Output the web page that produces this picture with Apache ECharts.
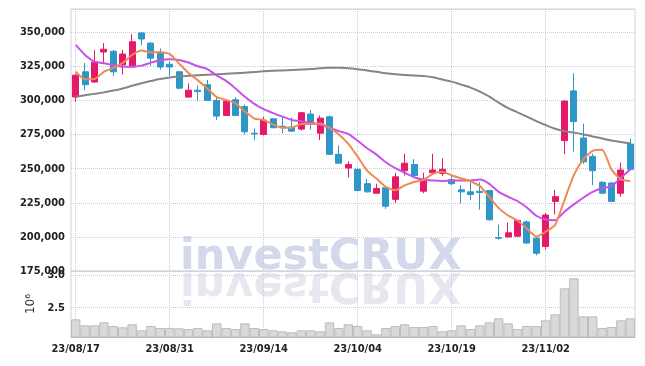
<!DOCTYPE html>
<html><head><meta charset="utf-8">
<script src="https://cdn.jsdelivr.net/npm/echarts@6/dist/echarts.min.js"></script>
<style>html,body{margin:0;padding:0;background:#fff}#c{width:645px;height:366px}</style>
</head><body><div id="c"></div>
<script>
const dates = ['23/08/17','23/08/18','23/08/21','23/08/22','23/08/23','23/08/24','23/08/25','23/08/28','23/08/29','23/08/30','23/08/31','23/09/01','23/09/04','23/09/05','23/09/06','23/09/07','23/09/08','23/09/11','23/09/12','23/09/13','23/09/14','23/09/15','23/09/18','23/09/19','23/09/20','23/09/21','23/09/22','23/09/25','23/09/26','23/09/27','23/10/04','23/10/05','23/10/06','23/10/10','23/10/11','23/10/12','23/10/13','23/10/16','23/10/17','23/10/18','23/10/19','23/10/20','23/10/23','23/10/24','23/10/25','23/10/26','23/10/27','23/10/30','23/10/31','23/11/01','23/11/02','23/11/03','23/11/06','23/11/07','23/11/08','23/11/09','23/11/10','23/11/13','23/11/14','23/11/15'];

const openP = [302500,321000,313500,335500,336000,326000,324500,349500,342000,334500,326500,321000,302500,307500,311500,300000,289000,300500,295500,276000,275000,286500,281000,280500,279000,290000,276000,288000,260500,250500,249500,239000,232000,236000,227500,248500,253000,233500,247000,246500,242000,234500,233000,233500,234000,199500,200000,200500,211000,199000,193000,226000,270500,307000,272500,259000,240000,239500,232000,268000];
const closeP = [318500,311500,328000,337500,321000,334000,343000,345000,331000,324500,324500,309000,307500,306500,300000,288500,299500,289000,277000,275500,285500,280000,280000,277500,291000,282500,287000,260500,254000,253000,234000,233000,235500,222500,244000,254000,245000,242500,249000,249500,239000,233000,231000,232500,212500,199000,203000,212000,195500,188000,216000,229500,299500,284500,255000,248500,232000,226000,249000,249500];
const lowP = [299000,307500,313000,327000,318000,319000,324000,340500,325500,322500,318000,308000,302000,299500,300000,285500,288500,288500,275000,271000,274500,280000,276000,277000,278000,278500,271000,260000,254000,243500,233500,232500,232000,220500,225000,245000,244000,232000,246500,244500,238000,224500,227000,220000,212000,198000,199500,200000,195000,186500,191000,216500,260500,262500,253500,238000,231500,225500,229500,249000];
const highP = [319500,327500,337000,342000,337000,337000,348500,349500,342500,338000,328500,321500,312500,311000,315000,302500,300000,302500,297000,279500,288000,287000,287500,287500,291500,293000,289000,289000,267000,255500,250000,242500,239000,237000,247000,261000,257000,247000,261000,257500,244500,238000,240000,240000,234500,209000,210500,212500,212000,200000,217500,234500,300000,320000,283000,261000,241000,240000,254500,272000];

const ma5 = [321000,315500,315700,321000,323800,327500,333300,336500,335200,335400,334100,327000,320100,314700,308800,302500,300300,297900,291900,286700,285700,282300,279900,280000,282700,282700,283100,279900,275100,268200,258800,248600,242700,236600,234100,237700,240200,241800,246200,247700,245000,243000,240800,237300,229400,221100,215700,212000,206000,200200,203800,208800,227000,245500,256800,263000,263800,249300,242200,241000];
const ma10 = [340700,333300,328400,327200,326000,324700,324700,325500,327700,329500,330200,329700,327800,325000,323000,318300,314300,308800,302700,297500,293600,290700,288100,285700,284700,283700,282200,279900,277500,275500,270400,265000,260300,254700,250300,247000,243700,241900,241300,241000,241300,241300,241300,242000,238900,233000,229400,226300,221500,215500,212700,212200,218500,223800,228700,233000,235600,237200,243300,249400];
const maLong = [302700,303800,304800,305900,307200,308800,310700,312600,314200,315700,316800,317500,318000,318500,318900,319200,319600,319900,320300,320800,321300,321700,322000,322300,322600,323000,323600,324000,324000,323600,322900,322000,321000,319900,319100,318600,318200,317900,317000,315300,313800,311600,309400,306500,302800,298400,294400,291300,288100,284800,281900,279300,277500,276400,275100,273600,272100,270700,269600,268600];

const volume = [2322000,2230000,2230000,2276000,2220000,2200000,2246000,2154000,2220000,2190000,2190000,2185000,2174000,2190000,2154000,2261000,2190000,2174000,2261000,2190000,2174000,2154000,2139000,2123000,2154000,2154000,2139000,2276000,2190000,2246000,2220000,2154000,2093000,2190000,2220000,2246000,2205000,2205000,2220000,2139000,2154000,2230000,2174000,2230000,2276000,2337000,2261000,2174000,2220000,2220000,2307000,2399000,2796000,2949000,2368000,2368000,2190000,2205000,2307000,2337000];

const FONT = 'DejaVu Sans Condensed, DejaVu Sans, sans-serif';
const GRIDC = '#c6cbdd';
const candleData = dates.map((d, i) => [openP[i], closeP[i], lowP[i], highP[i]]);

const chart = echarts.init(document.getElementById('c'), null, {renderer: 'canvas'});
chart.setOption({
  animation: false,
  backgroundColor: '#fff',
  grid: [
    {left: 71, right: 10, top: 9, height: 262, show: true, borderColor: '#d4d4d4', borderWidth: 1},
    {left: 71, right: 10, top: 271, height: 66, show: true, borderColor: '#d4d4d4', borderWidth: 1}
  ],
  graphic: [
    {type: 'text', z: -10, x: 180, y: 236.5, style: {text: 'investCRUX', font: 'bold 43px "DejaVu Sans"', fill: '#d3d8ea', textVerticalAlign: 'top'}},
    {type: 'text', z: -10, x: 180, y: 271, scaleY: -1, style: {text: 'investCRUX', y: -34.5, font: 'bold 43px "DejaVu Sans"', fill: '#e7e8ef', textVerticalAlign: 'top'}}
  ],
  xAxis: [
    {type: 'category', gridIndex: 0, data: dates, boundaryGap: true,
     axisLine: {show: false}, axisTick: {show: false}, axisLabel: {show: false},
     splitLine: {show: true, interval: 9, alignWithLabel: true, lineStyle: {type: 'dotted', color: GRIDC, width: 1}}},
    {type: 'category', gridIndex: 1, data: dates, boundaryGap: true,
     axisLine: {show: true, lineStyle: {color: '#b5b5b5'}}, axisTick: {show: false},
     axisLabel: {interval: 9, margin: 7, fontFamily: FONT, fontWeight: 'bold', fontSize: 11, color: '#222'},
     splitLine: {show: true, interval: 9, alignWithLabel: true, lineStyle: {type: 'dotted', color: GRIDC, width: 1}}}
  ],
  yAxis: [
    {type: 'value', gridIndex: 0, min: 175000, max: 367000, interval: 25000,
     axisLine: {show: false}, axisTick: {show: false},
     axisLabel: {showMaxLabel: false, margin: 6, fontFamily: FONT, fontWeight: 'bold', fontSize: 11, color: '#222',
       formatter: v => (v % 25000 === 0 ? v.toLocaleString('en-US') : '')},
     splitLine: {lineStyle: {type: 'dotted', color: GRIDC, width: 1}}},
    {type: 'value', gridIndex: 1, min: 2052000, max: 3061000, splitNumber: 2,
     name: '10⁶', nameLocation: 'middle', nameGap: 33, nameRotate: 90,
     nameTextStyle: {fontFamily: 'DejaVu Sans', fontSize: 12, color: '#333'},
     axisLine: {show: false}, axisTick: {show: false},
     axisLabel: {showMinLabel: false, showMaxLabel: false, margin: 6, fontFamily: FONT, fontWeight: 'bold', fontSize: 11, color: '#222',
       formatter: v => (Math.abs(v / 500000 - Math.round(v / 500000)) < 1e-6 ? (v / 1e6).toFixed(1) : '')},
     splitLine: {lineStyle: {type: 'dotted', color: GRIDC, width: 1}}}
  ],
  series: [
    {type: 'candlestick', xAxisIndex: 0, yAxisIndex: 0, data: candleData, barWidth: '70%', z: 3,
     itemStyle: {color: '#e6186a', color0: '#2e96c8', borderColor: '#e6186a', borderColor0: '#2e96c8', borderWidth: 1}},
    {type: 'line', name: 'MA long', xAxisIndex: 0, yAxisIndex: 0, data: maLong, symbol: 'none', smooth: true, z: 4,
     lineStyle: {color: '#858585', width: 2}},
    {type: 'line', name: 'MA10', xAxisIndex: 0, yAxisIndex: 0, data: ma10, symbol: 'none', smooth: 0.2, z: 5,
     lineStyle: {color: '#c653e6', width: 2}},
    {type: 'line', name: 'MA5', xAxisIndex: 0, yAxisIndex: 0, data: ma5, symbol: 'none', smooth: 0.2, z: 6,
     lineStyle: {color: '#ee8a52', width: 2}},
    {type: 'bar', xAxisIndex: 1, yAxisIndex: 1, data: volume, barWidth: '100%',
     itemStyle: {color: '#d9d9d9', borderColor: '#bdbdbd', borderWidth: 1}}
  ]
});
</script></body></html>
